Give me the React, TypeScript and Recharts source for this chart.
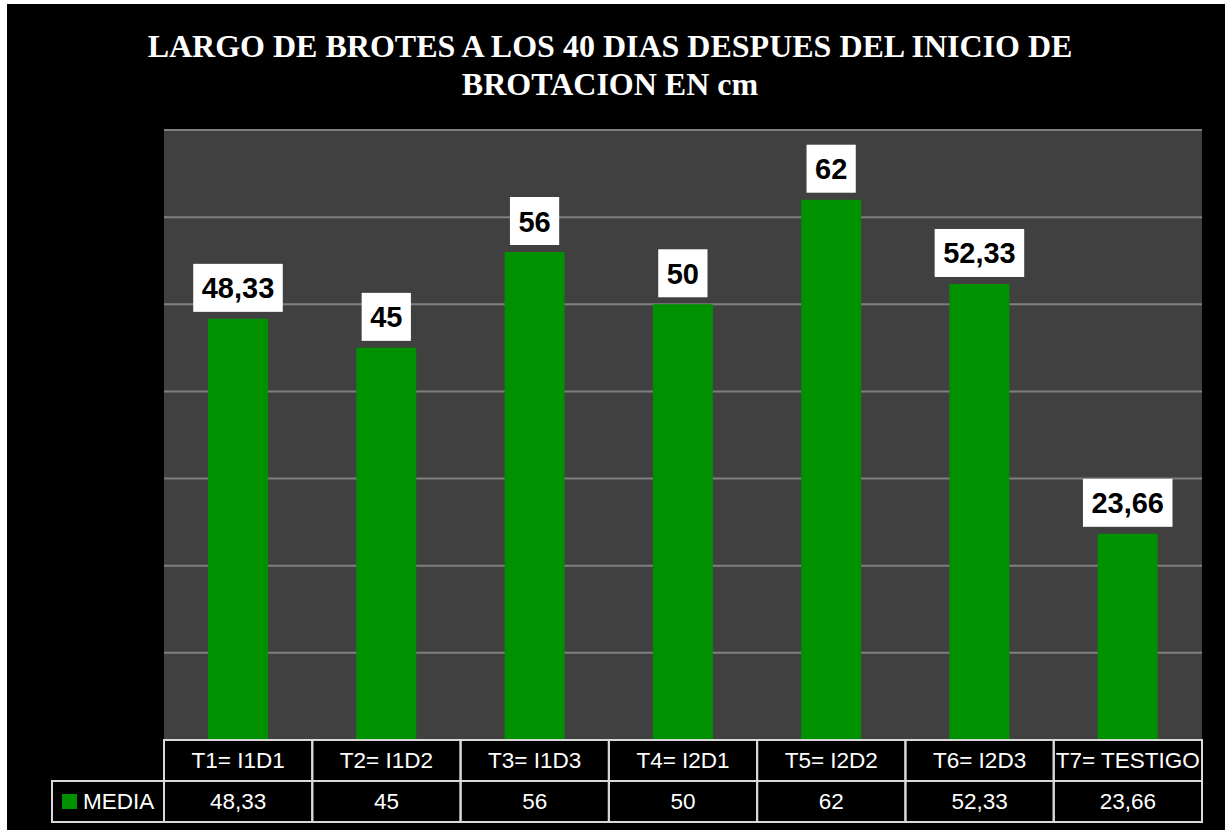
import React from 'react'
import { BarChart, Bar, XAxis, YAxis, CartesianGrid, LabelList } from 'recharts'

const categories = ['T1= I1D1', 'T2= I1D2', 'T3= I1D3', 'T4= I2D1', 'T5= I2D2', 'T6= I2D3', 'T7= TESTIGO']
const medias = [48.33, 45, 56, 50, 62, 52.33, 23.66]
const yTicks = [0, 10, 20, 30, 40, 50, 60, 70]
const seriesName = 'MEDIA'

const W = 1218
const H = 826
const margin = { top: 126, right: 23, bottom: 0, left: 157 }
const band = (W - margin.left - margin.right) / categories.length
const ROW = 41
const GREEN = '#009100'
const BORDER = '#d9d9d9'
const TABLE_FONT = '"Liberation Sans", Arial, sans-serif'

const fmt = (v: number) => String(v).replace('.', ',')

const chartData = categories.map((name, i) => ({ name, media: medias[i] }))

const TableTick = (props: any) => {
  const { x, y, payload } = props
  const i = payload.index
  const left = x - band / 2
  return (
    <g>
      <rect x={left} y={y} width={band} height={ROW * 2} fill="none" stroke={BORDER} strokeWidth={2} />
      <line x1={left} x2={left + band} y1={y + ROW} y2={y + ROW} stroke={BORDER} strokeWidth={2} />
      <text x={x} y={y + 28} textAnchor="middle" fill="#fff" fontSize={22.5} fontFamily={TABLE_FONT}>
        {payload.value}
      </text>
      <text x={x} y={y + ROW + 28} textAnchor="middle" fill="#fff" fontSize={22.5} fontFamily={TABLE_FONT}>
        {fmt(medias[i])}
      </text>
      {i === 0 && (
        <g>
          <rect x={left - 112} y={y + ROW} width={112} height={ROW} fill="none" stroke={BORDER} strokeWidth={2} />
          <rect x={left - 102} y={y + ROW + 13} width={15} height={15} fill={GREEN} />
          <text x={left - 81} y={y + ROW + 28} fill="#fff" fontSize={22.5} fontFamily={TABLE_FONT}>
            {seriesName}
          </text>
        </g>
      )}
    </g>
  )
}

const ValueLabel = (props: any) => {
  const { x, y, width, value } = props
  const text = fmt(value)
  const fs = 29
  let tw = 0
  for (const ch of text) tw += ch === ',' ? 0.278 * fs : 0.556 * fs
  const bw = tw + 17
  const cx = x + width / 2
  const boxTop = y - 55
  return (
    <g>
      <rect x={cx - bw / 2} y={boxTop} width={bw} height={48} fill="#fff" />
      <text
        x={cx}
        y={boxTop + 34.5}
        textAnchor="middle"
        fill="#000"
        fontSize={fs}
        fontWeight="bold"
        fontFamily={TABLE_FONT}
      >
        {text}
      </text>
    </g>
  )
}

export default function App() {
  return (
    <div style={{ position: 'absolute', left: 7, top: 4, width: W, height: H, background: '#000' }}>
      <div
        style={{
          position: 'absolute',
          left: 0,
          top: 23,
          width: 1206,
          textAlign: 'center',
          color: '#fff',
          fontFamily: '"Liberation Serif", "Times New Roman", serif',
          fontWeight: 'bold',
          fontSize: 32,
          lineHeight: '38px',
        }}
      >
        LARGO DE BROTES A LOS 40 DIAS DESPUES DEL INICIO DE
        <br />
        BROTACION EN cm
      </div>
      <BarChart width={W} height={H} data={chartData} margin={margin}>
        <CartesianGrid vertical={false} fill="#404040" fillOpacity={1} stroke="#7f7f7f" strokeWidth={2} />
        <XAxis
          dataKey="name"
          interval={0}
          tickLine={false}
          axisLine={false}
          tickSize={0}
          tickMargin={0}
          height={90}
          tick={TableTick}
        />
        <YAxis
          domain={[0, 70]}
          ticks={yTicks}
          width={0}
          tick={{ fill: 'transparent', fontSize: 1 }}
          axisLine={false}
          tickLine={false}
        />
        <Bar dataKey="media" fill={GREEN} barSize={60} isAnimationActive={false}>
          <LabelList dataKey="media" content={ValueLabel} />
        </Bar>
      </BarChart>
    </div>
  )
}
